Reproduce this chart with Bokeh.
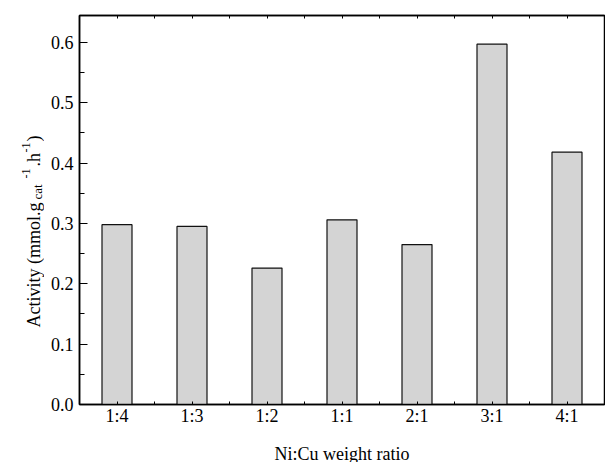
import numpy as np
from bokeh.plotting import figure
from bokeh.layouts import row
from bokeh.models import FixedTicker, LinearAxis, Range1d, NumeralTickFormatter, ColumnDataSource
from bokeh.core.properties import value
from bokeh.embed import file_html
from bokeh.resources import INLINE

# ---- data ----
categories = ["1:4", "1:3", "1:2", "1:1", "2:1", "3:1", "4:1"]
activity = [0.298, 0.295, 0.226, 0.306, 0.265, 0.597, 0.418]
y_ticks = [0.0, 0.1, 0.2, 0.3, 0.4, 0.5, 0.6]
x_title = "Ni:Cu weight ratio"
y_label_texts = ["Activity (mmol.g", "cat", "-1", ".h", "-1", ")"]
y_label_kinds = ["normal", "sub", "sup", "normal", "sup", "normal"]

FONT = "Liberation Serif"
TOTAL_W = 605
LW = 44                       # width of the y-title strip
W, H = TOTAL_W - LW, 480      # main plot canvas (part below the window stays empty)
FRAME_L, FRAME_R, FRAME_T, FRAME_B = 79, 604, 15, 404   # page px
X0, X1 = 0.5, len(categories) + 0.5
Y0, Y1 = 0.0, 0.6445

xpos = list(range(1, len(categories) + 1))

p = figure(width=W, height=H, output_backend="svg", toolbar_location=None,
           x_range=Range1d(X0, X1), y_range=Range1d(Y0, Y1),
           min_border_left=FRAME_L - LW, min_border_right=TOTAL_W - FRAME_R,
           min_border_top=FRAME_T, min_border_bottom=H - FRAME_B)
p.grid.visible = False
p.outline_line_color = "black"
p.outline_line_width = 1.5
p.background_fill_color = "white"
p.border_fill_color = "white"

p.vbar(x=xpos, top=activity, bottom=0, width=0.4, fill_color="#d4d4d4",
       line_color="#111111", line_width=1.2)

# bottom axis
xa = p.xaxis[0]
xa.ticker = FixedTicker(ticks=xpos, minor_ticks=[v + 0.5 for v in [0] + xpos])
xa.major_label_overrides = {v: c for v, c in zip(xpos, categories)}
xa.major_tick_in = 3
xa.major_tick_out = 0
xa.minor_tick_in = 3
xa.minor_tick_out = 0
xa.axis_line_width = 1.5
xa.major_label_text_font = FONT
xa.major_label_text_font_size = "18px"
xa.major_label_text_line_height = 1.0
xa.major_label_text_color = "black"
xa.major_label_standoff = 1
xa.axis_label = x_title
xa.axis_label_text_font = FONT
xa.axis_label_text_font_size = "18px"
xa.axis_label_text_line_height = 1.0
xa.axis_label_text_font_style = "normal"
xa.axis_label_text_color = "black"
xa.axis_label_standoff = 15

# left axis
ya = p.yaxis[0]
ya.ticker = FixedTicker(ticks=y_ticks, minor_ticks=[t + 0.05 for t in y_ticks])
ya.formatter = NumeralTickFormatter(format="0.0")
ya.major_tick_in = 8
ya.major_tick_out = 0
ya.minor_tick_in = 5
ya.minor_tick_out = 0
ya.axis_line_width = 1.5
ya.major_tick_line_width = 1.2
ya.minor_tick_line_width = 1.2
ya.major_label_text_font = FONT
ya.major_label_text_font_size = "18px"
ya.major_label_text_color = "black"
ya.major_label_standoff = 6

# top axis (ticks only)
top_ticks = [v * 0.5 for v in range(1, 2 * len(categories) + 1)]
ta = LinearAxis(ticker=FixedTicker(ticks=top_ticks),
                major_tick_in=3, major_tick_out=0, minor_tick_in=0, minor_tick_out=0,
                major_label_overrides={t: "" for t in top_ticks},
                major_label_standoff=0, axis_line_width=1.5)
p.add_layout(ta, "above")

# ---- y-axis title strip (rotated pieces with sub/superscripts), ranges in page px ----
q = figure(width=LW, height=H, output_backend="svg", toolbar_location=None,
           x_range=Range1d(0, LW), y_range=Range1d(FRAME_B, FRAME_T),
           min_border_left=0, min_border_right=0, min_border_top=FRAME_T,
           min_border_bottom=H - FRAME_B)
q.axis.visible = False
q.grid.visible = False
q.outline_line_color = None
q.background_fill_color = "white"
q.border_fill_color = "white"

start_page_y = [327, 199, 178, 166, 152, 141]
base_page_x = {"normal": 33, "sub": 37, "sup": 25}
size_by_kind = {"normal": "18px", "sub": "13px", "sup": "12px"}
src = ColumnDataSource(dict(
    x=[base_page_x[k] for k in y_label_kinds],
    y=start_page_y,
    t=y_label_texts,
    fs=[size_by_kind[k] for k in y_label_kinds],
))
q.text(x="x", y="y", text="t", source=src, angle=np.pi / 2,
       text_align="left", text_baseline="alphabetic",
       text_font=value(FONT), text_font_size="fs", text_color="black")

layout = row(q, p)
open("out.html", "w").write(file_html(layout, INLINE))
